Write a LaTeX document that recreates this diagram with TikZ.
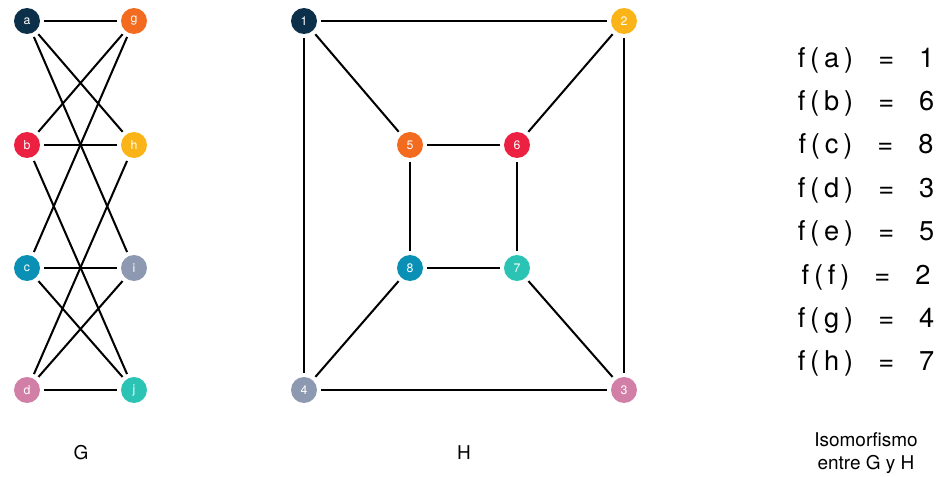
\documentclass[tikz,border=0pt]{standalone}
\usepackage{fontspec}
\setmainfont{TeX Gyre Heros}
\usepackage{tikz}
\usetikzlibrary{positioning,calc}
\definecolor{isoNavy}{HTML}{0C2F4A}
\definecolor{isoOrange}{HTML}{F26B1F}
\definecolor{isoRed}{HTML}{EC2142}
\definecolor{isoYellow}{HTML}{FBB417}
\definecolor{isoBlue}{HTML}{0A90B5}
\definecolor{isoGray}{HTML}{8D99B0}
\definecolor{isoPink}{HTML}{D27FA8}
\definecolor{isoTeal}{HTML}{2BC4B4}

\tikzset{
  vert/.style={circle,fill=#1,text=white,minimum size=0.52cm,inner sep=0pt,
    outer sep=2.5pt,font=\fontsize{7}{8}\selectfont},
  edge/.style={line width=1.15pt,black},
  mapline/.style={font=\fontsize{15.5}{18}\selectfont\addfontfeature{LetterSpace=18}},
  caption/.style={font=\fontsize{10.8}{13}\selectfont,align=center}
}

\begin{document}
\begin{tikzpicture}[x=0.02cm,y=-0.02cm]
  \useasboundingbox (0,0) rectangle (938,477);

  % graph G
  \foreach \x/\y/\lab/\col in {27/21/a/isoNavy,27/145/b/isoRed,27/268/c/isoBlue,27/390/d/isoPink,
    134/21/g/isoOrange,134/145/h/isoYellow,134/268/i/isoGray,134/390/j/isoTeal}{
    \node[vert=\col] (G\lab) at (\x,\y) {\lab};
  }
  \foreach \u/\v in {a/g,a/h,a/i,b/g,b/h,b/j,c/g,c/i,c/j,d/h,d/i,d/j}{
    \draw[edge] (G\u) -- (G\v);
  }
  \node[caption] (labG) at (81,453) {G};

  % graph H
  \foreach \x/\y/\lab/\col in {304/21/1/isoNavy,624/21/2/isoYellow,624/390/3/isoPink,304/390/4/isoGray,
    410/145/5/isoOrange,517/145/6/isoRed,517/268/7/isoTeal,410/268/8/isoBlue}{
    \node[vert=\col] (H\lab) at (\x,\y) {\lab};
  }
  \foreach \u/\v in {1/2,1/4,1/5,2/3,2/6,3/4,3/7,4/8,5/6,5/8,6/7,7/8}{
    \draw[edge] (H\u) -- (H\v);
  }
  \node[caption] (labH) at (464,453) {H};

  % the map f
  \foreach \k/\a/\b in {0/a/1,1/b/6,2/c/8,3/d/3,4/e/5,5/f/2,6/g/4,7/h/7}{
    \node[mapline] (f\a) at (866,{60+43.4*\k}) {f(\a)\ \ =\ \ \b};
  }
  \node[caption] (labF) at (866,453) {Isomorfismo\\entre G y H};
\end{tikzpicture}
\end{document}
